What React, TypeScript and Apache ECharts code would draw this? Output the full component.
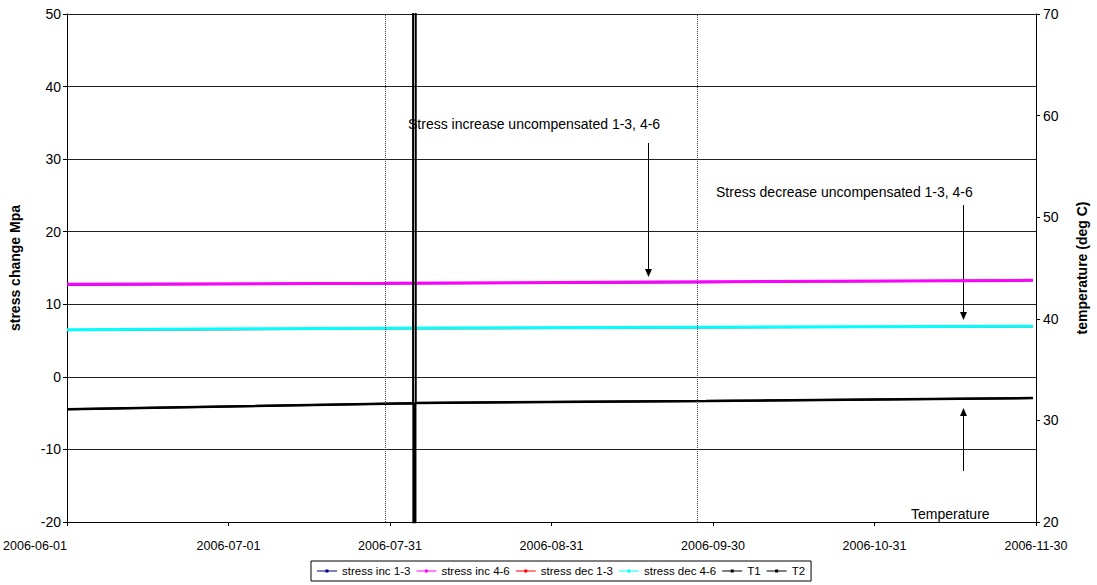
import React, { useEffect, useRef } from "react";
import * as echarts from "echarts";

// x values are days since 2006-06-01
const xTickLabels = ["2006-06-01", "2006-07-01", "2006-07-31", "2006-08-31", "2006-09-30", "2006-10-31", "2006-11-30"];
const xMax = 182;

const stressInc13: [number, number][] = [[0, 12.7], [60, 12.85], [120, 13.05], [181.4, 13.3]];
const stressInc46: [number, number][] = [[0, 12.75], [60, 12.9], [120, 13.1], [181.4, 13.3]];
const stressDec13: [number, number][] = [[0, 6.45], [60, 6.65], [120, 6.8], [181.4, 6.95]];
const stressDec46: [number, number][] = [[0, 6.5], [60, 6.7], [120, 6.85], [181.4, 6.97]];
const t1: [number, number][] = [[0, 31.1], [65.0, 31.7], [65.0, 120], [65.5, 120], [65.5, 31.72], [120, 31.9], [181.4, 32.2]];
const t2: [number, number][] = [[0, 31.1], [65.1, 31.7], [65.1, -60], [65.4, -60], [65.4, 31.72], [120, 31.9], [181.4, 32.2]];
const eventDays = [59.85, 118.4];

const annotations = [
  { text: "Stress increase uncompensated 1-3, 4-6", tx: 408, ty: 125, ax: 648.5, y1: 143, y2: 277 },
  { text: "Stress decrease uncompensated 1-3, 4-6", tx: 716, ty: 193, ax: 963.5, y1: 205, y2: 320 },
  { text: "Temperature", tx: 911, ty: 515, ax: 963.5, y1: 471, y2: 408 },
];

const FONT = "Liberation Sans, Arial, sans-serif";
const legendIcon = "path://M0,4.4 L20,4.4 L20,5.6 L0,5.6 Z M8.5,3.5 L11.5,3.5 L11.5,6.5 L8.5,6.5 Z";

export default function App() {
  const ref = useRef<HTMLDivElement>(null);
  useEffect(() => {
    if (!ref.current) return;
    const chart = echarts.init(ref.current, undefined, { renderer: "svg" });
    const step = xMax / 6;
    const graphics: any[] = [];
    annotations.forEach((a) => {
      graphics.push({
        type: "text",
        left: a.tx,
        top: a.ty - 8,
        style: { text: a.text, fill: "#000", font: `14px ${FONT}` },
      });
      const dir = a.y2 > a.y1 ? 1 : -1;
      graphics.push({
        type: "line",
        shape: { x1: a.ax, y1: a.y1, x2: a.ax, y2: a.y2 - dir * 6 },
        style: { stroke: "#000", lineWidth: 1 },
      });
      graphics.push({
        type: "polygon",
        shape: { points: [[a.ax - 3.5, a.y2 - dir * 8], [a.ax + 3.5, a.y2 - dir * 8], [a.ax, a.y2]] },
        style: { fill: "#000" },
      });
    });
    const mk = (name: string, data: [number, number][], color: string, yAxisIndex: number, width: number, extra: any = {}) => ({
      name,
      type: "line",
      data,
      yAxisIndex,
      symbol: "none",
      lineStyle: { color, width },
      itemStyle: { color },
      clip: true,
      ...extra,
    });
    chart.setOption({
      animation: false,
      textStyle: { fontFamily: FONT },
      grid: { left: 67, right: 55, top: 14, bottom: 63 },
      legend: {
        bottom: 4,
        left: 311,
        icon: legendIcon,
        itemWidth: 20,
        itemHeight: 10,
        itemGap: 6,
        padding: [4, 6],
        borderColor: "#000",
        borderWidth: 1,
        textStyle: { fontSize: 11.5, color: "#000", fontFamily: FONT },
        data: ["stress inc 1-3", "stress inc 4-6", "stress dec 1-3", "stress dec 4-6", "T1", "T2"],
      },
      xAxis: {
        type: "value",
        min: 0,
        max: xMax,
        interval: step,
        axisLine: { onZero: false, lineStyle: { color: "#000" } },
        axisTick: { show: true, length: 4, lineStyle: { color: "#000" } },
        splitLine: { show: false },
        axisLabel: {
          color: "#000",
          fontSize: 12.5,
          margin: 17,
          showMaxLabel: true,
          alignMinLabel: "right",
          formatter: (v: number) => xTickLabels[Math.round(v / step)] ?? "",
        },
      },
      yAxis: [
        {
          type: "value",
          min: -20,
          max: 50,
          interval: 10,
          name: "stress change Mpa",
          nameLocation: "middle",
          nameRotate: 90,
          nameGap: 45,
          nameTextStyle: { fontWeight: "bold", fontSize: 14, color: "#000" },
          axisLine: { show: true, lineStyle: { color: "#000" } },
          axisTick: { show: true, length: 4, lineStyle: { color: "#000" } },
          splitLine: { show: true, lineStyle: { color: "#222", width: 1 } },
          axisLabel: { color: "#000", fontSize: 14, margin: 6 },
        },
        {
          type: "value",
          min: 20,
          max: 70,
          interval: 10,
          position: "right",
          name: "temperature (deg C)",
          nameLocation: "middle",
          nameRotate: 90,
          nameGap: 39,
          nameTextStyle: { fontWeight: "bold", fontSize: 14, color: "#000" },
          axisLine: { show: true, lineStyle: { color: "#000" } },
          axisTick: { show: true, length: 4, lineStyle: { color: "#000" } },
          splitLine: { show: false },
          axisLabel: { color: "#000", fontSize: 14, margin: 7 },
        },
      ],
      series: [
        mk("stress inc 1-3", stressInc13, "#000080", 0, 2, {
          markLine: {
            silent: true,
            symbol: "none",
            label: { show: false },
            lineStyle: { color: "#444", type: "dotted", width: 1 },
            data: eventDays.map((d) => ({ xAxis: d })),
          },
        }),
        mk("stress dec 1-3", stressDec13, "#FF0000", 0, 2),
        mk("stress inc 4-6", stressInc46, "#FF00FF", 0, 3),
        mk("stress dec 4-6", stressDec46, "#00FFFF", 0, 3),
        mk("T1", t1, "#000000", 1, 2),
        mk("T2", t2, "#000000", 1, 2.5),
      ],
      graphic: graphics,
    });
    return () => chart.dispose();
  }, []);
  return <div ref={ref} style={{ width: 1097, height: 585, position: "absolute", left: 0, top: 0 }} />;
}
